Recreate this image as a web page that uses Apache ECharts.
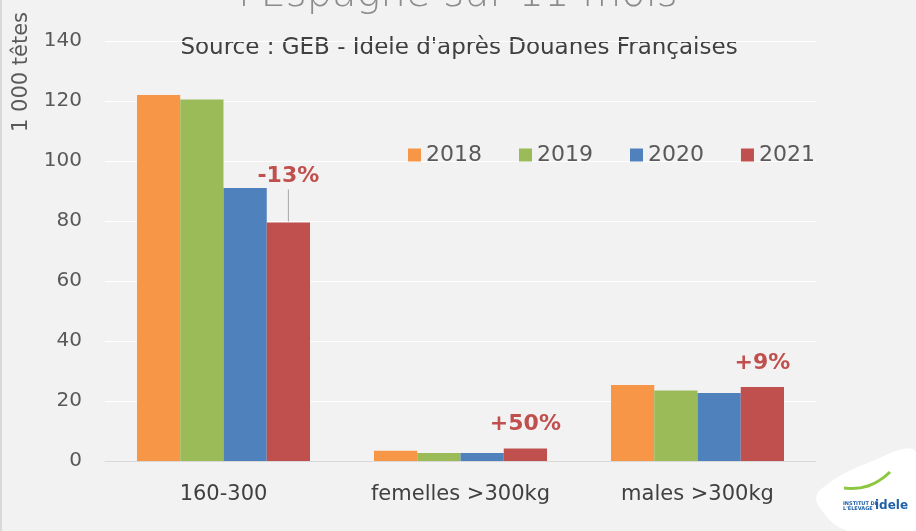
<!DOCTYPE html>
<html>
<head>
<meta charset="utf-8">
<script src="https://cdn.jsdelivr.net/npm/echarts@6/dist/echarts.min.js"></script>
<style>
  html, body { margin: 0; padding: 0; background: #f2f2f2; }
  #chart { width: 916px; height: 531px; }
</style>
</head>
<body>
<div id="chart"></div>
<script>
const categories = ['160-300', 'femelles >300kg', 'males >300kg'];
const years = ['2018', '2019', '2020', '2021'];
const v2018 = [122.0, 3.4, 25.3];
const v2019 = [120.5, 2.7, 23.5];
const v2020 = [91.0, 2.7, 22.7];
const v2021 = [79.5, 4.2, 24.7];
const notes = ['-13%', '+50%', '+9%'];
const yTicks = { min: 0, max: 140, interval: 20 };

const colors = ['#f79646', '#9bbb59', '#4f81bd', '#c0504d'];
const font = 'DejaVu Sans';

const chart = echarts.init(document.getElementById('chart'));

function barSeries(name, data, color) {
  return {
    name: name,
    type: 'bar',
    data: data,
    barGap: 0,
    barCategoryGap: '27%',
    itemStyle: { color: color },
    emphasis: { disabled: true }
  };
}

const series = [
  barSeries(years[0], v2018, colors[0]),
  barSeries(years[1], v2019, colors[1]),
  barSeries(years[2], v2020, colors[2]),
  barSeries(years[3], v2021, colors[3])
];
// annotations above the 2021 bars, the first one with a leader line
series[3].label = {
  show: true,
  position: 'top',
  distance: 1,
  formatter: function (p) {
    let s = '{n|' + notes[p.dataIndex] + '}';
    if (p.dataIndex === 0) {
      s += '\n{l|}';
    } else {
      s += '\n{g|}';
    }
    return s;
  },
  rich: {
    n: { color: '#c0504d', fontSize: 22, fontWeight: 'bold', fontFamily: font, lineHeight: 26 },
    l: { width: 1, height: 32, backgroundColor: '#a6a6a6' },
    g: { width: 1, height: 10 }
  }
};

let option = {
  backgroundColor: '#f2f2f2',
  animation: false,
  textStyle: { fontFamily: font },
  grid: { left: 105, right: 100, top: 41, bottom: 70 },
  legend: {
    data: years,
    left: 403,
    top: 139,
    itemWidth: 13,
    itemHeight: 13,
    itemGap: 37,
    icon: 'rect',
    textStyle: { fontSize: 22, color: '#595959', fontFamily: font }
  },
  xAxis: {
    type: 'category',
    data: categories,
    axisLine: { lineStyle: { color: '#d9d9d9' } },
    axisTick: { show: false },
    axisLabel: { interval: 0, fontSize: 21, color: '#404040', margin: 23, fontFamily: font }
  },
  yAxis: {
    type: 'value',
    min: yTicks.min,
    max: yTicks.max,
    interval: yTicks.interval,
    axisLine: { show: false },
    axisTick: { show: false },
    axisLabel: { fontSize: 20, color: '#595959', margin: 23, fontFamily: font },
    splitLine: { lineStyle: { color: '#ffffff', width: 1 } }
  },
  series: series,
  graphic: [
    { type: 'rect', left: 0, top: 0, shape: { width: 2, height: 531 }, style: { fill: '#d9d9d9' } },
    {
      type: 'text', x: 458, y: -4,
      style: { text: "l'Espagne sur 11 mois", fontSize: 40, fontWeight: 200, fill: '#8c8c8c', fontFamily: font, align: 'center', verticalAlign: 'middle' }
    },
    {
      type: 'text', x: 459, y: 48,
      style: { text: "Source : GEB - Idele d'après Douanes Françaises", fontSize: 23, fill: '#404040', fontFamily: font, align: 'center', verticalAlign: 'middle' }
    },
    {
      type: 'text', x: 22, y: 72, rotation: Math.PI / 2,
      style: { text: '1 000 têtes', fontSize: 21, fill: '#595959', fontFamily: font, align: 'center', verticalAlign: 'middle' }
    },
    {
      type: 'polygon',
      shape: { points: [[820, 490], [870, 462], [916, 452], [916, 531], [848, 531], [818, 505]], smooth: 0.4 },
      style: { fill: '#ffffff' }
    },
    {
      type: 'text', x: 843, y: 501,
      style: { text: "INSTITUT DE\nL'ÉLEVAGE", fontSize: 5, fill: '#1f5fa8', fontFamily: font, fontWeight: 'bold' }
    },
    {
      type: 'text', x: 875, y: 500,
      style: { text: 'idele', fontSize: 12, fill: '#1f5fa8', fontFamily: font, fontWeight: 'bold' }
    },
    {
      type: 'polyline',
      shape: { points: [[844, 488], [868, 486], [890, 472]], smooth: 0.5 },
      style: { stroke: '#8dc63f', lineWidth: 3, fill: null }
    }
  ]
};

chart.setOption(option);
</script>
</body>
</html>
